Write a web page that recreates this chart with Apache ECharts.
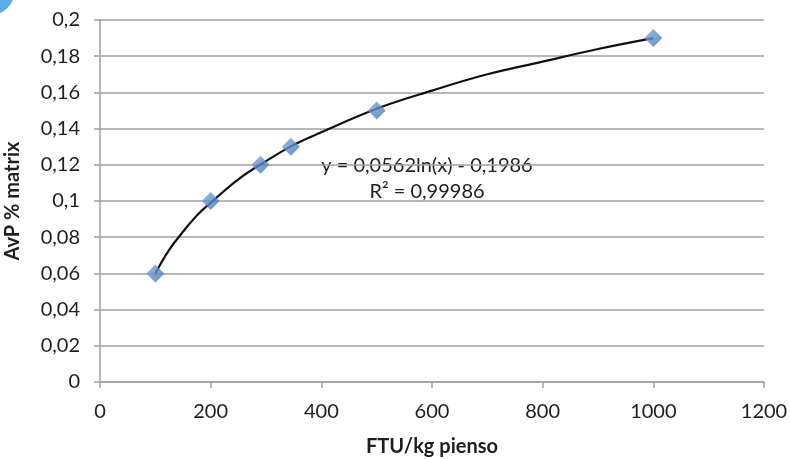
<!DOCTYPE html>
<html>
<head>
<meta charset="utf-8">
<script src="https://cdn.jsdelivr.net/npm/echarts@6/dist/echarts.min.js"></script>
<style>
  html, body { margin: 0; padding: 0; background: #fff; }
  #chart { width: 790px; height: 459px; }
</style>
</head>
<body>
<div id="chart"></div>
<script>
// puntos medidos
const ftuValues = [100, 200, 290, 345, 500, 1000]
const avpValues = [0.06, 0.10, 0.12, 0.13, 0.15, 0.19]
// curva de tendencia
const trendX = [100, 125, 150, 175, 200, 250, 300, 350, 400, 500, 600, 700, 800, 900, 1000]
const trendY = [0.060, 0.073, 0.083, 0.092, 0.099, 0.112, 0.122, 0.131, 0.138, 0.151, 0.161, 0.170, 0.177, 0.184, 0.190]
const eqLines = ['y = 0,0562ln(x) - 0,1986', 'R² = 0,99986']

const fmtY = (v) => String(+v.toFixed(2)).replace('.', ',')
const fmtX = (v) => String(v)
const font = 'Lato, "Open Sans", sans-serif'

const myEcharts = echarts.init(document.getElementById('chart'))
myEcharts.setOption({
  animation: false,
  grid: { left: 100, right: 26, top: 20, bottom: 77, outerBoundsMode: 'none', containLabel: false },
  xAxis: {
    type: 'value',
    min: 0,
    max: 1200,
    interval: 200,
    name: 'FTU/kg pienso',
    nameLocation: 'middle',
    nameGap: 55,
    nameTextStyle: { fontFamily: font, fontWeight: 'bold', fontSize: 20, color: '#1e1e1e' },
    axisLine: { show: true, lineStyle: { color: '#a0a0a0', width: 1.5 } },
    axisTick: { show: true, length: 6, lineStyle: { color: '#a0a0a0', width: 1.5 } },
    axisLabel: { fontFamily: font, fontSize: 20, color: '#1e1e1e', margin: 20, formatter: fmtX },
    splitLine: { show: false }
  },
  yAxis: {
    type: 'value',
    min: 0,
    max: 0.2,
    interval: 0.02,
    name: 'AvP % matrix',
    nameLocation: 'middle',
    nameGap: 77,
    nameTextStyle: { fontFamily: font, fontWeight: 'bold', fontSize: 20, color: '#1e1e1e' },
    axisLine: { show: true, lineStyle: { color: '#a0a0a0', width: 1.5 } },
    axisTick: { show: true, length: 6, lineStyle: { color: '#a0a0a0', width: 1.5 } },
    axisLabel: { fontFamily: font, fontSize: 20, color: '#1e1e1e', margin: 20, formatter: fmtY },
    splitLine: { show: true, lineStyle: { color: '#a0a0a0', width: 1.5 } }
  },
  graphic: [
    {
      type: 'circle',
      shape: { cx: -10, cy: -10, r: 25 },
      style: { fill: '#5aaee6' }
    },
    {
      type: 'text',
      x: 427,
      y: 166,
      style: { text: eqLines[0], font: '20px ' + font, fill: '#1e1e1e', align: 'center', verticalAlign: 'middle' }
    },
    {
      type: 'text',
      x: 427,
      y: 192,
      style: { text: eqLines[1], font: '20px ' + font, fill: '#1e1e1e', align: 'center', verticalAlign: 'middle' }
    }
  ],
  series: [
    {
      name: 'tendencia',
      type: 'line',
      smooth: 0.4,
      showSymbol: false,
      lineStyle: { color: '#111', width: 2.2 },
      data: trendX.map((x, i) => [x, trendY[i]]),
      z: 2
    },
    {
      name: 'AvP',
      type: 'scatter',
      symbol: 'diamond',
      symbolSize: 18,
      itemStyle: {
        color: new echarts.graphic.LinearGradient(0, 0, 1, 1, [
          { offset: 0, color: '#7fa9dd' },
          { offset: 1, color: '#3d72b6' }
        ])
      },
      data: ftuValues.map((x, i) => [x, avpValues[i]]),
      z: 3
    }
  ]
})
</script>
</body>
</html>
